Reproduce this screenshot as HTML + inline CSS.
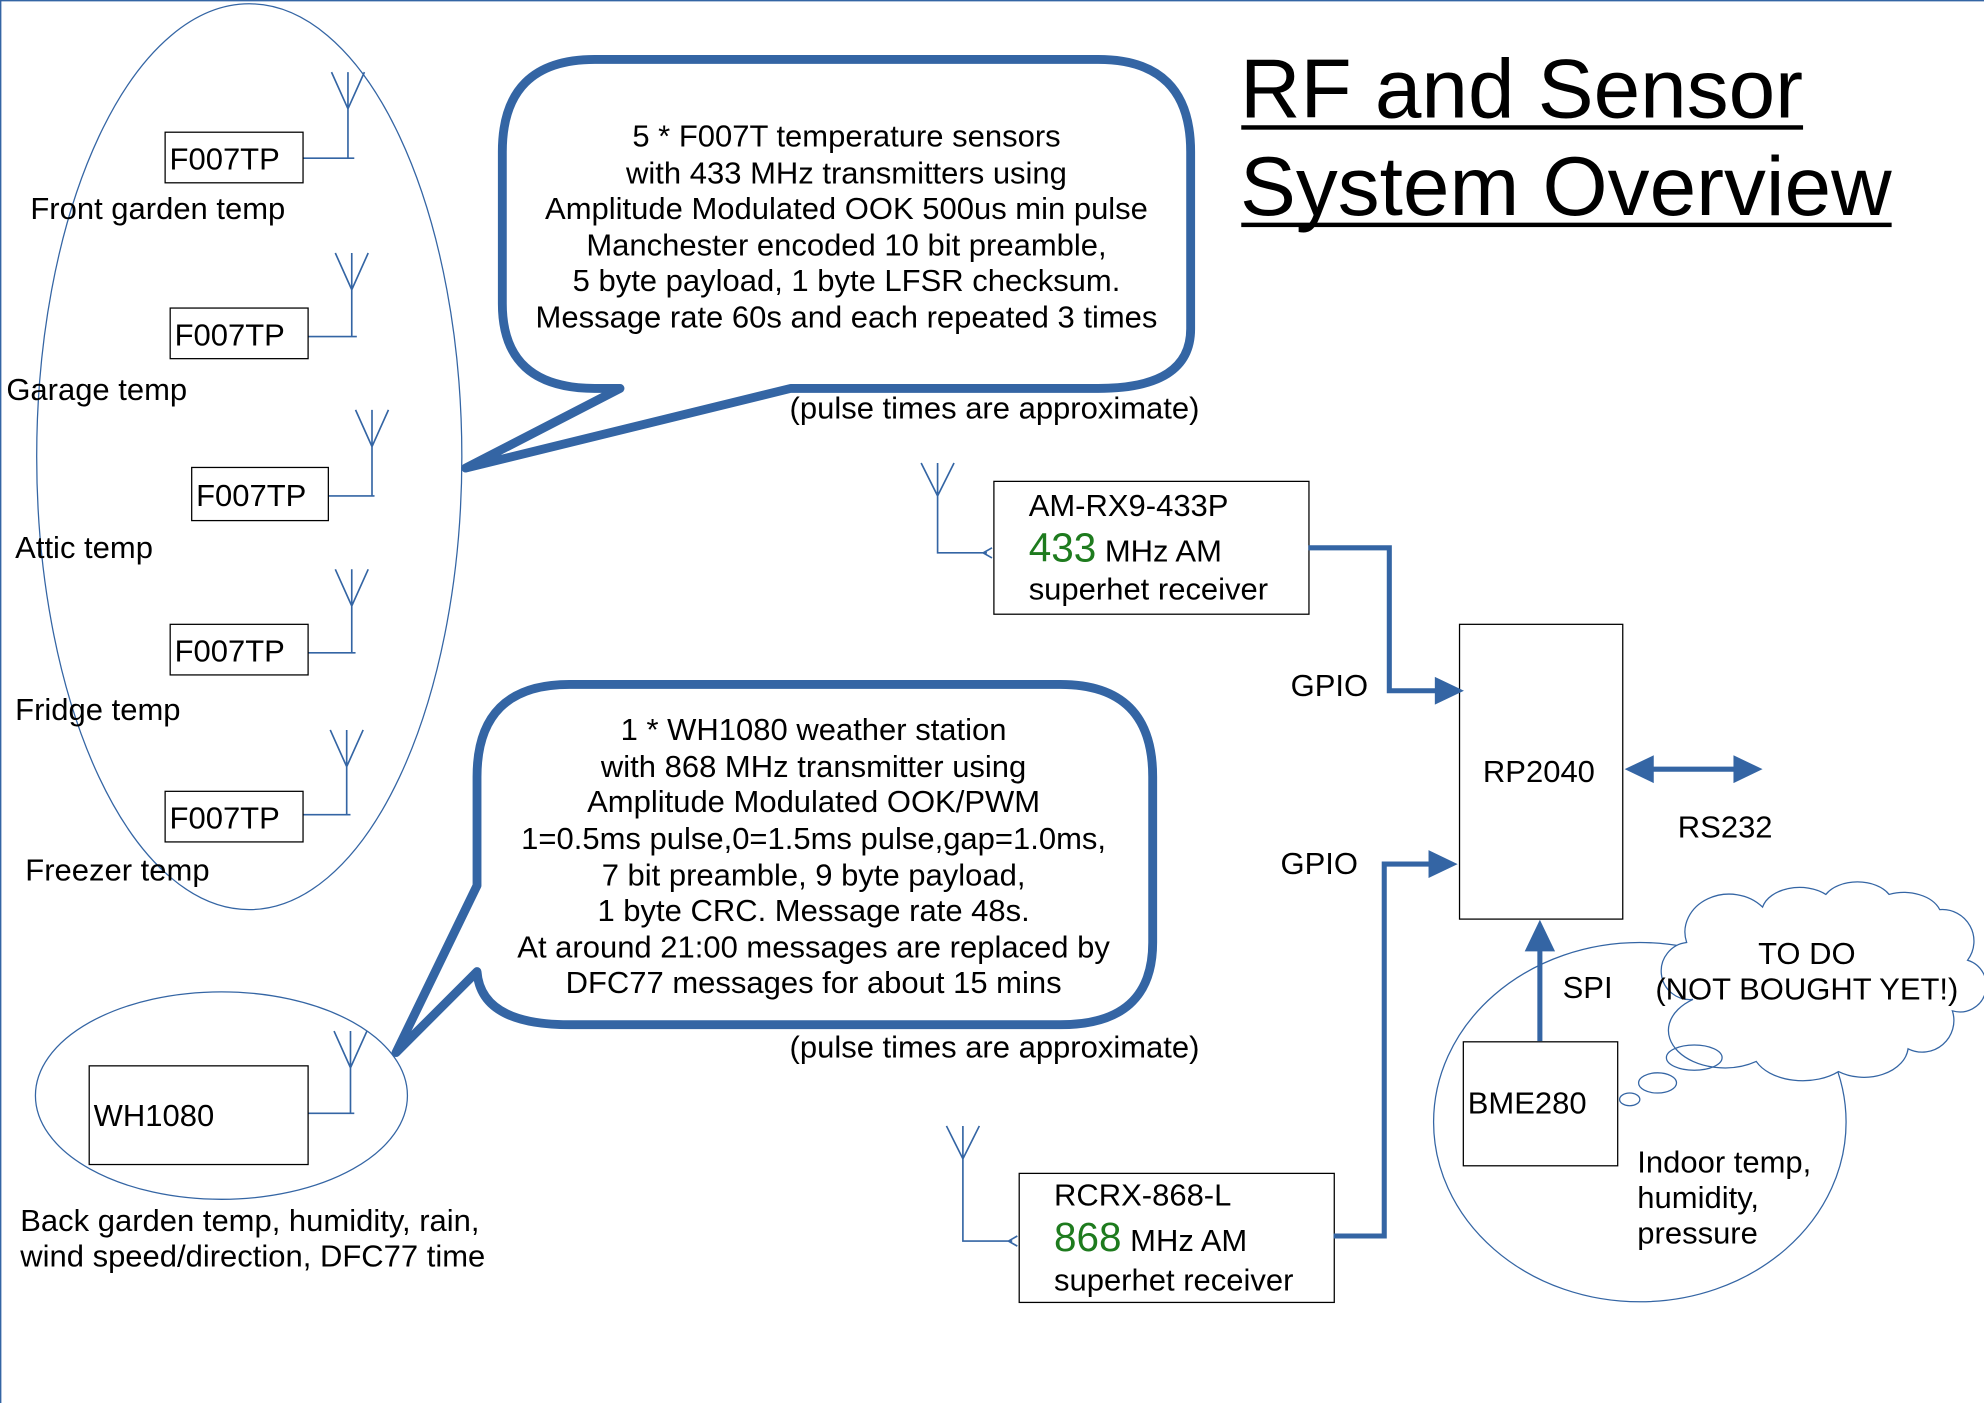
<!DOCTYPE html>
<html><head><meta charset="utf-8"><style>
html,body{margin:0;padding:0;background:#fff;width:1984px;height:1403px;overflow:hidden}
svg{display:block}
text{font-family:"Liberation Sans",sans-serif;fill:#000}
</style></head><body>
<svg width="1984" height="1403" viewBox="0 0 1568 1109" preserveAspectRatio="none" xmlns="http://www.w3.org/2000/svg">
<line x1="0.5" y1="0" x2="0.5" y2="1109" stroke="#3465a4" stroke-width="1.2"/>
<line x1="0" y1="0.5" x2="1568" y2="0.5" stroke="#3465a4" stroke-width="1.2"/>

<g fill="none" stroke="#3465a4" stroke-width="1">
<ellipse cx="197" cy="361" rx="168" ry="358"/>
<ellipse cx="175" cy="866" rx="147" ry="82"/>
<ellipse cx="1296" cy="887" rx="163" ry="142"/>
</g>

<!-- antennas -->
<g fill="none" stroke="#3465a4" stroke-width="1.3">
<path d="M262,57 L275,86 L288,57 M275,57 L275,125 M239,125 L280,125"/>
<path d="M265,200 L278,229 L291,200 M278,200 L278,266 M243,266 L282,266"/>
<path d="M281,324 L294,353 L307,324 M294,324 L294,392 M259,392 L296,392"/>
<path d="M265,450 L278,479 L291,450 M278,450 L278,516 M243,516 L281,516"/>
<path d="M261,577 L274,606 L287,577 M274,577 L274,644 M239,644 L277,644"/>
<path d="M264,815 L277,844 L290,815 M277,815 L277,880 M243,880 L280,880"/>
<path d="M728,366 L741,392 L754,366 M741,366 L741,437 L780,437 M784,433 L777,437 L784,441"/>
<path d="M748,890 L761,916 L774,890 M761,890 L761,981 L800,981 M804,977 L797,981 L804,985"/>
</g>

<!-- boxes -->
<g fill="#fff" stroke="#000" stroke-width="1">
<rect x="130.5" y="104.5" width="109" height="40"/>
<rect x="134.5" y="243.5" width="109" height="40"/>
<rect x="151.5" y="369.5" width="108" height="42"/>
<rect x="134.5" y="493.5" width="109" height="40"/>
<rect x="130.5" y="625.5" width="109" height="40"/>
<rect x="70.5" y="842.5" width="173" height="78"/>
<rect x="785.5" y="380.5" width="249" height="105"/>
<rect x="805.5" y="927.5" width="249" height="102"/>
<rect x="1153.5" y="493.5" width="129" height="233"/>
<rect x="1156.5" y="823.5" width="122" height="98"/>
</g>

<g font-size="24.5">
<text x="134" y="134">F007TP</text>
<text x="138" y="273">F007TP</text>
<text x="155" y="400">F007TP</text>
<text x="138" y="523">F007TP</text>
<text x="134" y="655">F007TP</text>
<text x="24" y="173">Front garden temp</text>
<text x="5" y="316">Garage temp</text>
<text x="12" y="441">Attic temp</text>
<text x="12" y="569">Fridge temp</text>
<text x="20" y="696">Freezer temp</text>
<text x="74" y="890">WH1080</text>
<text x="16" y="973">Back garden temp, humidity, rain,</text>
<text x="16" y="1001">wind speed/direction, DFC77 time</text>
<text x="813" y="408">AM-RX9-433P</text>
<text x="813" y="444"><tspan font-size="32" style="fill:#1e7b1e">433</tspan> MHz AM</text>
<text x="813" y="474">superhet receiver</text>
<text x="833" y="953">RCRX-868-L</text>
<text x="833" y="989"><tspan font-size="32" style="fill:#1e7b1e">868</tspan> MHz AM</text>
<text x="833" y="1020">superhet receiver</text>
<text x="1020" y="550">GPIO</text>
<text x="1012" y="691">GPIO</text>
<text x="1172" y="618">RP2040</text>
<text x="1326" y="662">RS232</text>
<text x="1235" y="789">SPI</text>
<text x="1160" y="880">BME280</text>
<text x="1294" y="927">Indoor temp,</text>
<text x="1294" y="955">humidity,</text>
<text x="1294" y="983">pressure</text>
<text x="624" y="331">(pulse times are approximate)</text>
<text x="624" y="836">(pulse times are approximate)</text>
</g>

<!-- speech bubbles -->
<g fill="#fff" stroke="#3465a4" stroke-width="7" stroke-linejoin="round">
<path d="M470,47 L868,47 Q941,47 941,120 L941,260 Q941,307 868,307 L625,307 L368,370 L490,307 L470,307 Q397,307 397,240 L397,120 Q397,47 470,47 Z"/>
<path d="M450,541 L838,541 Q911,541 911,614 L911,745 Q911,810 838,810 L450,810 Q380,810 377,768 L313,832 L377,700 L377,614 Q377,541 450,541 Z"/>
</g>
<g font-size="24.5" text-anchor="middle">
<text x="669" y="116">5 * F007T temperature sensors</text>
<text x="669" y="145">with 433 MHz transmitters using</text>
<text x="669" y="173">Amplitude Modulated OOK 500us min pulse</text>
<text x="669" y="202">Manchester encoded 10 bit preamble,</text>
<text x="669" y="230">5 byte payload, 1 byte LFSR checksum.</text>
<text x="669" y="259">Message rate 60s and each repeated 3 times</text>
<text x="643" y="585">1 * WH1080 weather station</text>
<text x="643" y="614">with 868 MHz transmitter using</text>
<text x="643" y="642">Amplitude Modulated OOK/PWM</text>
<text x="643" y="671">1=0.5ms pulse,0=1.5ms pulse,gap=1.0ms,</text>
<text x="643" y="700">7 bit preamble, 9 byte payload,</text>
<text x="643" y="728">1 byte CRC. Message rate 48s.</text>
<text x="643" y="757">At around 21:00 messages are replaced by</text>
<text x="643" y="785">DFC77 messages for about 15 mins</text>
</g>

<!-- connectors -->
<g fill="none" stroke="#3465a4" stroke-width="4">
<path d="M1034,433 L1098,433 L1098,546 L1136,546"/>
<path d="M1054,977 L1094,977 L1094,683 L1131,683"/>
<path d="M1217,823 L1217,750"/>
<path d="M1305,608 L1372,608"/>
</g>
<g fill="#3465a4">
<polygon points="1134,535 1157,546 1134,557"/>
<polygon points="1129,672 1152,683 1129,694"/>
<polygon points="1205,752 1217,727 1229,752"/>
<polygon points="1307,597 1284,608 1307,619"/>
<polygon points="1370,597 1393,608 1370,619"/>
</g>

<!-- cloud -->
<g fill="none" stroke="#3465a4" stroke-width="1">
<path fill="#fff" d="M1338,790 a22,22 0 0 1 -5,-45 a35,30 0 0 1 60,-28 a30,20 0 0 1 50,-10 a28,18 0 0 1 50,0 a30,20 0 0 1 40,12 a25,25 0 0 1 22,40 a20,20 0 0 1 -12,40 a25,25 0 0 1 -35,30 a35,25 0 0 1 -55,18 a40,25 0 0 1 -65,-8 a30,20 0 0 1 -50,-49 z"/>
<ellipse cx="1339" cy="836" rx="22" ry="10"/>
<ellipse cx="1310" cy="856" rx="15" ry="8"/>
<ellipse cx="1288" cy="869" rx="8" ry="5"/>
</g>
<g font-size="24.5" text-anchor="middle">
<text x="1428" y="762">TO DO</text>
<text x="1428" y="790">(NOT BOUGHT YET!)</text>
</g>

<!-- title -->
<text x="980" y="93" font-size="66" textLength="445" lengthAdjust="spacingAndGlyphs">RF and Sensor</text>
<text x="980" y="170" font-size="66" textLength="515" lengthAdjust="spacingAndGlyphs">System Overview</text>
<rect x="981" y="99" width="444" height="3.5" fill="#000"/>
<rect x="981" y="176" width="514" height="3.5" fill="#000"/>
</svg>
</body></html>
